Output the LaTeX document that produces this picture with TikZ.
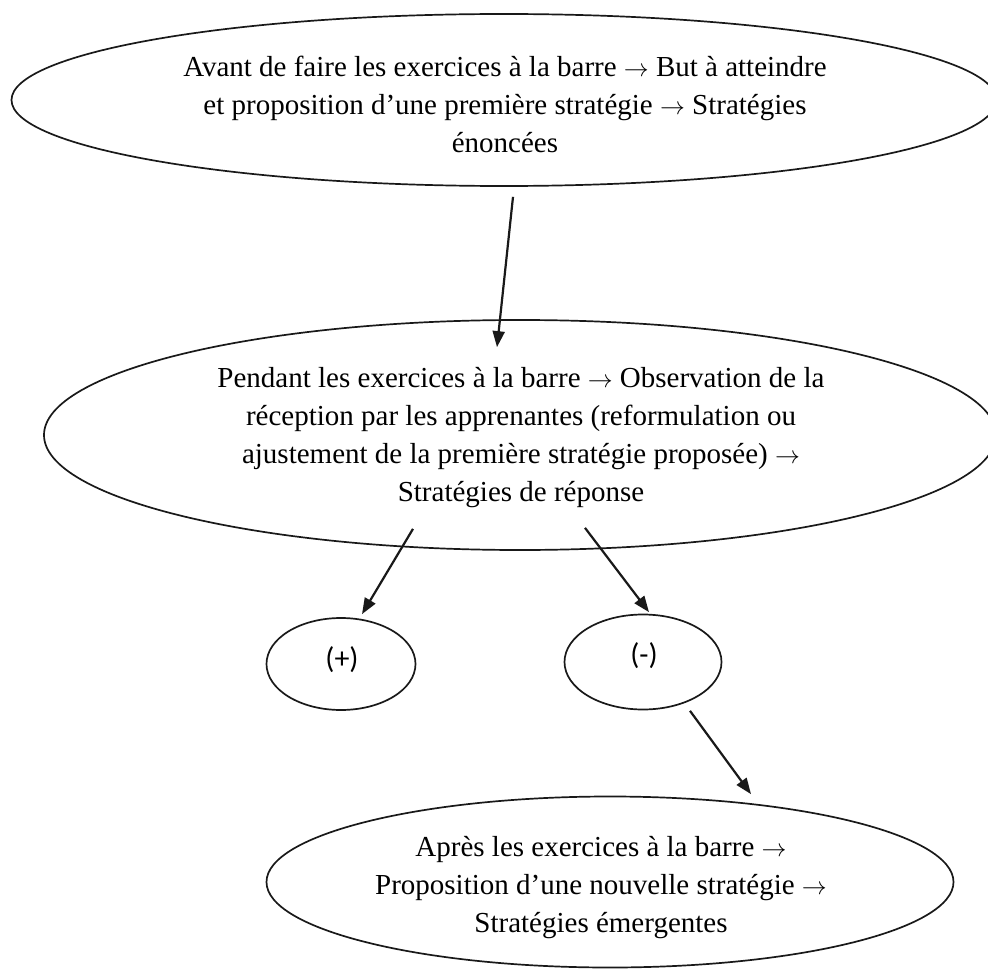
\documentclass[tikz,border=0pt]{standalone}
\usepackage{fontspec}
\setmainfont{Liberation Serif}
\newfontfamily\signfont{Carlito}
\usetikzlibrary{shapes.geometric,arrows.meta,calc}
\newcommand\tto{\ensuremath{\rightarrow}}
\begin{document}
\begin{tikzpicture}[x=1pt,y=-1pt,
  oval/.style={draw=black!90, line width=1.7pt, ellipse, inner sep=0pt},
  body/.style={align=center, font=\fontsize{29}{38}\selectfont, text=black, inner sep=0pt, anchor=north},
  sign/.style={font=\signfont\fontsize{30}{32}\selectfont, text=black, inner sep=0pt},
  link/.style={draw=black!90, line width=2.2pt, -{Triangle[length=16pt,width=12pt]}}]
\useasboundingbox (0,0) rectangle (988,971);

% phase ovals
\node[oval, minimum width=985pt, minimum height=172pt] (avant) at (504,100) {};
\node[oval, minimum width=952pt, minimum height=230pt] (pendant) at (520,435) {};
\node[oval, minimum width=149pt, minimum height=92pt] (plus) at (341,664) {};
\node[oval, minimum width=157pt, minimum height=95pt] (minus) at (643,662) {};
\node[oval, minimum width=687pt, minimum height=171pt] (apres) at (610,882) {};

% texts (north anchors sit one ascender above the first baseline)
\node[body] (avanttxt) at (505,56) {Avant de faire les exercices à la barre \tto{} But à atteindre\\et proposition d’une première stratégie \tto{} Stratégies\\énoncées};
\node[body] (pendanttxt) at (521,367) {Pendant les exercices à la barre \tto{} Observation de la\\réception par les apprenantes (reformulation ou\\ajustement de la première stratégie proposée) \tto\\Stratégies de réponse};
\node[sign] (plustxt) at (342,660) {(+)};
\node[sign] (minustxt) at (644,656) {(-)};
\node[body] (aprestxt) at (601,836) {Après les exercices à la barre \tto\\Proposition d’une nouvelle stratégie \tto\\Stratégies émergentes};

% connectors
\draw[link] ($(avant.south)+(9,10)$) -- ($(pendant.north)+(-23,28)$);
\draw[link] ($(pendant.south)+(-107,-22)$) -- ($(plus.north)+(21,-3)$);
\draw[link] ($(pendant.south)+(65,-23)$) -- ($(minus.north)+(6,-1.5)$);
\draw[link] ($(minus.south)+(47,0.5)$) -- ($(apres.north)+(141,-1.5)$);
\end{tikzpicture}
\end{document}
